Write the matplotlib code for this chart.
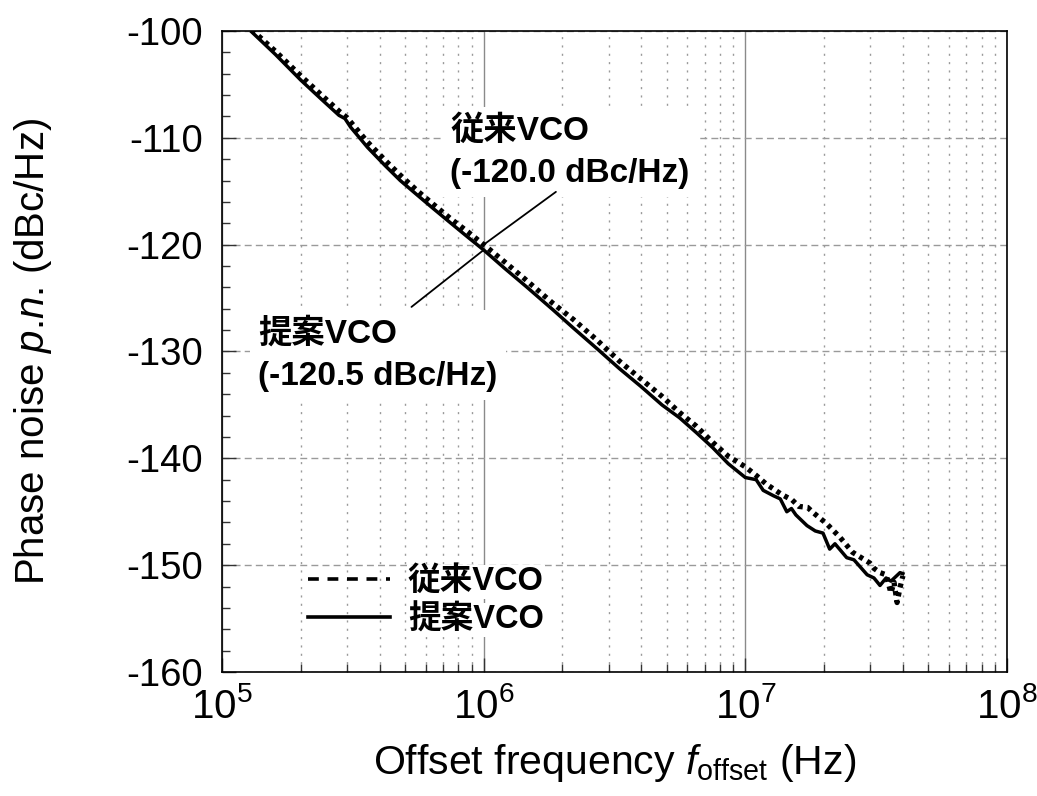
import matplotlib
matplotlib.use("Agg")
import matplotlib.pyplot as plt
from matplotlib.lines import Line2D
from matplotlib.ticker import LogLocator, MultipleLocator, NullFormatter

plt.rcParams['font.family'] = ['Liberation Sans', 'Noto Sans CJK JP']
plt.rcParams['mathtext.fontset'] = 'custom'
plt.rcParams['mathtext.rm'] = 'Liberation Sans'
plt.rcParams['mathtext.it'] = 'Liberation Sans:italic'
plt.rcParams['mathtext.bf'] = 'Liberation Sans:bold'
plt.rcParams['axes.unicode_minus'] = False

# proposed VCO (solid)
f_prop = [1.30e5, 1.6e5, 2.0e5, 2.4e5, 2.8e5, 2.95e5, 3.1e5, 3.6e5, 4.2e5, 4.8e5,
          5.6e5, 6.4e5, 7.5e5, 8.7e5, 1.0e6, 1.2e6, 1.45e6, 1.84e6, 2.2e6, 2.7e6,
          3.3e6, 4.0e6, 4.8e6, 5.6e6, 6.5e6, 7.5e6, 8.6e6, 1.0e7, 1.1e7, 1.17e7,
          1.28e7, 1.36e7, 1.44e7, 1.5e7, 1.56e7, 1.72e7, 1.85e7, 1.98e7, 2.1e7, 2.2e7,
          2.44e7, 2.6e7, 2.92e7, 3.1e7, 3.27e7, 3.45e7, 3.6e7, 3.9e7, 4.0e7]
pn_prop = [-100.1, -102.2, -104.6, -106.4, -107.9, -108.2, -109.0, -110.9, -112.6, -114.0,
           -115.4, -116.6, -118.0, -119.3, -120.5, -122.2, -123.9, -126.1, -127.8, -129.7,
           -131.6, -133.3, -135.0, -136.2, -137.6, -139.0, -140.5, -141.8, -142.0, -143.0,
           -143.5, -143.8, -145.0, -144.7, -145.3, -146.3, -146.8, -147.0, -148.5, -148.0,
           -149.3, -149.5, -150.9, -151.2, -151.9, -151.2, -151.5, -150.7, -150.8]

# conventional VCO (dotted)
f_conv = [1.30e5, 1.6e5, 2.0e5, 2.4e5, 2.8e5, 3.0e5, 3.6e5, 4.2e5, 4.8e5, 5.6e5,
          6.4e5, 7.5e5, 8.7e5, 1.0e6, 1.2e6, 1.45e6, 1.84e6, 2.2e6, 2.7e6, 3.3e6,
          4.0e6, 4.8e6, 5.6e6, 6.5e6, 7.5e6, 8.6e6, 1.0e7, 1.1e7, 1.2e7, 1.36e7,
          1.43e7, 1.51e7, 1.6e7, 1.73e7, 1.82e7, 2.04e7, 2.3e7, 2.57e7, 2.99e7, 3.1e7,
          3.27e7, 3.45e7, 3.6e7, 3.7e7, 3.8e7, 3.9e7, 4.0e7]
pn_conv = [-99.9, -101.9, -104.2, -106.0, -107.5, -108.1, -110.4, -112.1, -113.5, -115.0,
           -116.2, -117.6, -118.8, -120.0, -121.6, -123.3, -125.5, -127.0, -128.9, -130.9,
           -132.6, -134.2, -135.7, -137.0, -138.5, -139.8, -140.8, -141.6, -142.4, -143.3,
           -143.6, -143.9, -144.5, -144.6, -145.1, -146.1, -147.4, -148.8, -149.8, -150.3,
           -150.7, -150.9, -152.6, -151.6, -153.5, -152.1, -151.0]

# values quoted at 1 MHz offset
f_mark = 1.0e6
conv_mark = -120.0
prop_mark = -120.5

label_conv = "従来VCO"
label_prop = "提案VCO"

fig = plt.figure(figsize=(10.37, 7.96), dpi=100)
ax = fig.add_axes([0.2141, 0.1558, 0.7570, 0.8053])

ax.plot(f_conv, pn_conv, color="black", lw=3.8, ls=(0, (0.8, 0.9)), zorder=3)
ax.plot(f_prop, pn_prop, color="black", lw=2.5, ls="-", zorder=4)

ax.set_xscale("log")
ax.set_xlim(1e5, 1e8)
ax.set_ylim(-160, -100)
ax.xaxis.set_major_locator(LogLocator(base=10, numticks=10))
ax.xaxis.set_minor_locator(LogLocator(base=10, subs=range(2, 10), numticks=30))
ax.xaxis.set_minor_formatter(NullFormatter())
ax.yaxis.set_major_locator(MultipleLocator(10))
ax.yaxis.set_minor_locator(MultipleLocator(2))

ax.set_axisbelow(True)
ax.grid(which="major", axis="x", color="#8a8a8a", lw=1.0, ls="-")
ax.grid(which="minor", axis="x", color="#9a9a9a", lw=1.0, ls=(0, (1.5, 4.5)))
ax.grid(which="major", axis="y", color="#9a9a9a", lw=1.0, ls=(0, (5, 3)))

ax.tick_params(which="both", direction="in", top=False, right=False, width=1.0, color="#333333")
ax.tick_params(which="major", length=10)
ax.tick_params(which="minor", length=6)
ax.tick_params(axis="y", labelsize=27.5, pad=14)
ax.tick_params(axis="x", labelsize=29, pad=11)
for s in ax.spines.values():
    s.set_linewidth(1.2)
    s.set_color("black")

ax.set_xlabel(r"Offset frequency $f_{\rm offset}$ (Hz)", fontsize=29.5, labelpad=11)
ax.set_ylabel(r"Phase noise $p$.$n$. (dBc/Hz)", fontsize=29, labelpad=52)

# annotations for the 1 MHz values
box = dict(boxstyle="square,pad=0.25", facecolor="white", edgecolor="none")
ax.text(0.291, 0.868, f"{label_conv}\n({conv_mark:.1f} dBc/Hz)", transform=ax.transAxes,
        ha="left", va="top", fontsize=24, fontweight="bold", linespacing=1.45, bbox=box, zorder=5)
ax.text(0.046, 0.552, f"{label_prop}\n({prop_mark:.1f} dBc/Hz)", transform=ax.transAxes,
        ha="left", va="top", fontsize=24, fontweight="bold", linespacing=1.45, bbox=box, zorder=5)
ax.annotate("", xy=(f_mark, conv_mark), xytext=(52, 38), textcoords="offset points",
            arrowprops=dict(arrowstyle="-", color="black", lw=1.3, shrinkA=0, shrinkB=0), zorder=6)
ax.annotate("", xy=(f_mark, prop_mark), xytext=(-52, -41), textcoords="offset points",
            arrowprops=dict(arrowstyle="-", color="black", lw=1.3, shrinkA=0, shrinkB=0), zorder=6)

handles = [Line2D([], [], color="black", lw=2.6, ls=(0, (3, 2.4))),
           Line2D([], [], color="black", lw=2.6, ls="-")]
leg = ax.legend(handles, [label_conv, label_prop], loc="upper left", bbox_to_anchor=(0.11, 0.165),
                frameon=False, borderpad=0, borderaxespad=0, handlelength=2.5,
                handletextpad=0.55, labelspacing=0.22,
                prop=dict(family=['Liberation Sans', 'Noto Sans CJK JP'], weight="bold", size=23.5))
for t in leg.get_texts():
    t.set_bbox(dict(facecolor="white", edgecolor="none", pad=1))

fig.savefig("out.png", dpi=100)
